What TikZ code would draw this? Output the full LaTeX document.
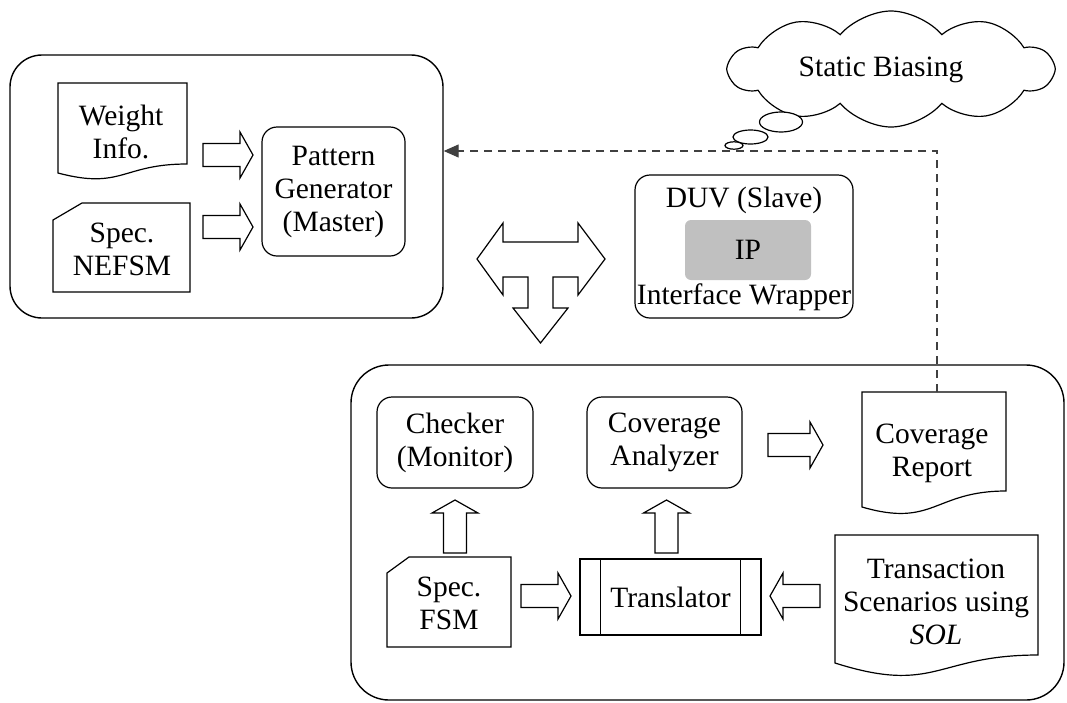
\documentclass[tikz,border=0pt]{standalone}
\usepackage{fontspec}
\setmainfont{Liberation Serif}
\usetikzlibrary{shapes.symbols,arrows.meta,calc}

\definecolor{ipgray}{RGB}{192,192,192}
\definecolor{dashgray}{RGB}{64,64,64}

\tikzset{
  lbl/.style={align=center, inner sep=0pt, font=\fontsize{29.5}{33}\selectfont},
  outline/.style={draw=black, line width=1.2pt},
  roundbox/.style={outline, rounded corners=15pt, lbl},
  bigbox/.style={draw=black, line width=1.4pt, rounded corners=32pt},
  shapeline/.style={draw=black, line width=1.2pt, line join=miter},
  dashconn/.style={draw=dashgray, line width=1.2pt, dash pattern=on 8pt off 6pt,
    -{Triangle[length=15pt,width=13pt]}},
  % hollow block arrow pointing along +x, tail at the origin; argument = length
  pics/blockarrow/.style={code={
    \draw[shapeline, fill=white] (0,-11.5) -- ({#1-13},-11.5) -- ({#1-13},-23)
      -- (#1,0) -- ({#1-13},23) -- ({#1-13},11.5) -- (0,11.5) -- cycle;}},
  pics/blockarrow/.default=50,
}

\begin{document}
\begin{tikzpicture}[x=1pt,y=-1pt]
\useasboundingbox (0,0) rectangle (1067,702);

% ---- enclosing frames ----
\node[bigbox, minimum width=433, minimum height=263] (gen) at (226.5,186.5) {};
\node[bigbox, rounded corners=38pt, minimum width=713, minimum height=335] (mon) at (707.5,532.5) {};

% ---- generator side ----
\draw[shapeline] (58,83) -- (187,83) -- (187,164)
  .. controls (122,164) and (122,190) .. (58,173) -- cycle;
\node[lbl] (wi) at (121,132) {Weight\\Info.};

\draw[shapeline] (53,220) -- (82,203) -- (190,203) -- (190,292) -- (53,292) -- cycle;
\node[lbl] (nefsm) at (122,249) {Spec.\\NEFSM};

\node[roundbox, minimum width=143, minimum height=129] (pg) at (333.5,191.5)
  {Pattern\\Generator\\(Master)};

\pic at (203,155) {blockarrow};
\pic at (203,227) {blockarrow};

% ---- device under verification ----
\node[roundbox, minimum width=218, minimum height=143] (duv) at (744,246.5) {};
\node[fill=ipgray, rounded corners=6pt, minimum width=126, minimum height=60, lbl] (ip) at (748,250) {IP};
\node[lbl] (duvt) at (744,200) {DUV (Slave)};
\node[lbl] (iw) at (744,297) {Interface Wrapper};

% ---- bus connection (T-shaped block arrow) ----
\draw[shapeline] (477,259) -- (503,223) -- (503,242) -- (578,242) -- (578,223)
  -- (605,259) -- (578,295) -- (578,277) -- (553,277) -- (553,308) -- (568,308)
  -- (540.5,343) -- (513,308) -- (528,308) -- (528,277) -- (503,277) -- (503,295) -- cycle;

% ---- monitor side ----
\node[roundbox, minimum width=156, minimum height=91] (chk) at (455,442.5) {Checker\\(Monitor)};
\node[roundbox, minimum width=155, minimum height=91] (cov) at (664.5,442.5) {Coverage\\Analyzer};

\draw[shapeline] (862,392) -- (1006,392) -- (1006,491)
  .. controls (934,491) and (934,528) .. (862,507) -- cycle;
\node[lbl] (rep) at (932,453) {Coverage\\Report};
\coordinate (reptop) at (937,392);

\draw[shapeline] (387,573) -- (409,557) -- (511,557) -- (511,647) -- (387,647) -- cycle;
\node[lbl] (fsm) at (449,603) {Spec.\\FSM};

\node[outline, lbl, minimum width=181, minimum height=76] (tr) at (670.5,597) {Translator};
\draw[outline] ([xshift=21pt]tr.north west) -- ([xshift=21pt]tr.south west);
\draw[outline] ([xshift=-21pt]tr.north east) -- ([xshift=-21pt]tr.south east);

\draw[shapeline] (835,535) -- (1038,535) -- (1038,655)
  .. controls (936,655) and (936,695) .. (835,663) -- cycle;
\node[lbl] (ts) at (936,602) {Transaction\\Scenarios using\\\textit{SOL}};

\pic at (768,445) {blockarrow=55};
\pic at (521,596) {blockarrow};
\pic[rotate=180] at (820,596) {blockarrow};
\pic[rotate=90] at (455,553) {blockarrow=53};
\pic[rotate=90] at (666.5,553) {blockarrow=53};

% ---- static biasing feedback ----
\node[cloud, draw, line width=1.2pt, cloud puffs=10, cloud puff arc=100, aspect=2.7,
      minimum width=323, minimum height=116] (sb) at (891,69) {};
\node[lbl] (sbt) at (881,70) {Static Biasing};
\draw[shapeline, fill=white] (781,122) ellipse [x radius=21.5, y radius=10];
\draw[shapeline, fill=white] (750.5,137) ellipse [x radius=17.5, y radius=7];
\draw[shapeline, fill=white] (734,145.5) ellipse [x radius=9, y radius=3.7];

\coordinate (bend) at (937,151);
\draw[dashconn] (reptop) -- (bend) -- (bend -| gen.east);
\end{tikzpicture}
\end{document}
